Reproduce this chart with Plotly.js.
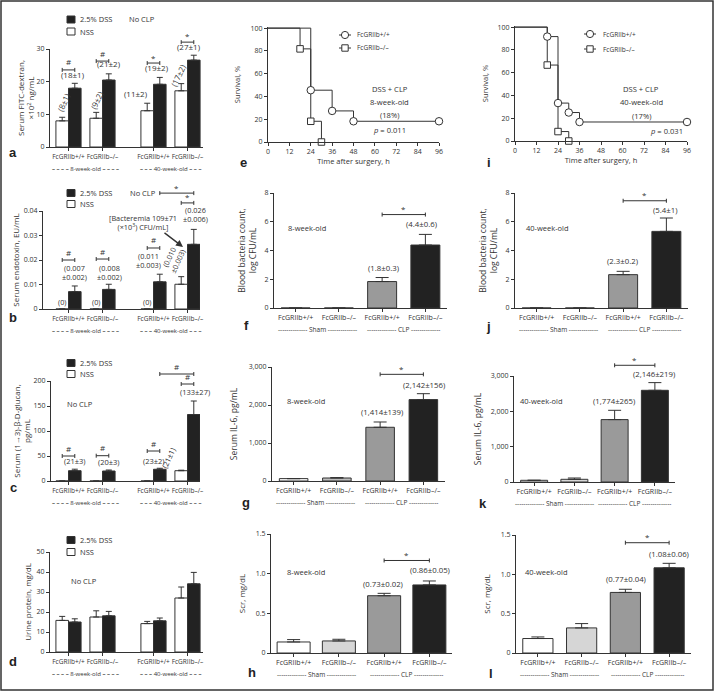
<!DOCTYPE html>
<html>
<head>
<meta charset="utf-8">
<script src="https://cdn.plot.ly/plotly-3.0.1.min.js"></script>
<style>html,body{margin:0;padding:0;background:#fff}#chart{width:716px;height:692px}</style>
</head>
<body>
<div id="chart"></div>
<script>
// ================= DATA =================
const groupLabels = ['FcGRIIb+/+', 'FcGRIIb–/–', 'FcGRIIb+/+', 'FcGRIIb–/–'];
const ageLabels = ['8-week-old', '40-week-old'];
const seriesNames = ['NSS', '2.5% DSS'];
const clpLabels = ['Sham', 'CLP'];

// a: serum FITC-dextran (x10^2 ng/mL)
const fitcNSS = [8.0, 8.8, 11.1, 17.2];
const fitcNSSErr = [1.1, 1.8, 2.3, 2.2];
const fitcDSS = [18.0, 20.5, 19.2, 26.6];
const fitcDSSErr = [1.5, 1.9, 2.1, 1.5];
const fitcNSSText = ['(8±1)', '(9±2)', '(11±2)', '(17±2)'];
const fitcDSSText = ['(18±1)', '(21±2)', '(19±2)', '(27±1)'];

// b: serum endotoxin (EU/mL)
const endoNSS = [0, 0, 0, 0.0101];
const endoNSSErr = [null, null, null, 0.0031];
const endoDSS = [0.0071, 0.0080, 0.0111, 0.0264];
const endoDSSErr = [0.0023, 0.0021, 0.0031, 0.0061];
const endoNSSText = ['(0)', '(0)', '(0)', '(0.010<br>±0.003)'];
const endoDSSText = ['(0.007<br>±0.002)', '(0.008<br>±0.002)', '(0.011<br>±0.003)', '(0.026<br>±0.006)'];
const bacteremiaText = '[Bacteremia 109±71<br>(×10<sup>3</sup>) CFU/mL]';

// c: serum (1->3)-beta-D-glucan (pg/mL)
const glucanNSS = [0, 0, 0, 20.6];
const glucanNSSErr = [null, null, null, 1.0];
const glucanDSS = [20.6, 20.0, 23.5, 133];
const glucanDSSErr = [3.0, 2.0, 2.0, 27];
const glucanNSSText = [null, null, null, '(21±1)'];
const glucanDSSText = ['(21±3)', '(20±3)', '(23±2)', '(133±27)'];

// d: urine protein (mg/dL)
const urineNSS = [15.8, 17.5, 14.2, 27.0];
const urineNSSErr = [2.0, 3.1, 1.1, 5.5];
const urineDSS = [15.0, 18.1, 15.6, 34.1];
const urineDSSErr = [1.6, 2.2, 1.4, 5.7];

// e / i: survival after DSS + CLP (%)
const surv8WTTime = [0, 24, 36, 48, 96];
const surv8WT = [100, 45.5, 27.3, 18.2, 18.2];
const surv8KOTime = [0, 18, 24, 30];
const surv8KO = [100, 81.8, 18.2, 0];
const surv40WTTime = [0, 18, 24, 30, 36, 96];
const surv40WT = [100, 91.7, 33.3, 25.0, 16.7, 16.7];
const surv40KOTime = [0, 18, 24, 30];
const surv40KO = [100, 66.7, 8.3, 0];
const survText8 = ['DSS + CLP', '8-week-old', '(18%)', '<i>p</i> = 0.011'];
const survText40 = ['DSS + CLP', '40-week-old', '(17%)', '<i>p</i> = 0.031'];

// f / j: blood bacteria count (log CFU/mL)
const bact8 = [0, 0, 1.84, 4.38];
const bact8Err = [null, null, 0.28, 0.74];
const bact40 = [0, 0, 2.32, 5.33];
const bact40Err = [null, null, 0.23, 0.93];
const bact8Text = [null, null, '(1.8±0.3)', '(4.4±0.6)'];
const bact40Text = [null, null, '(2.3±0.2)', '(5.4±1)'];

// g / k: serum IL-6 (pg/mL)
const il6_8 = [63, 79, 1414, 2142];
const il6_8Err = [null, 10, 139, 156];
const il6_40 = [48, 76, 1766, 2595];
const il6_40Err = [null, 37, 263, 218];
const il6_8Text = [null, null, '(1,414±139)', '(2,142±156)'];
const il6_40Text = [null, null, '(1,774±265)', '(2,146±219)'];

// h / l: serum creatinine (mg/dL)
const scr8 = [0.139, 0.152, 0.722, 0.858];
const scr8Err = [0.03, 0.021, 0.03, 0.05];
const scr40 = [0.184, 0.319, 0.770, 1.083];
const scr40Err = [0.02, 0.055, 0.04, 0.057];
const scr8Text = [null, null, '(0.73±0.02)', '(0.86±0.05)'];
const scr40Text = [null, null, '(0.77±0.04)', '(1.08±0.06)'];
const scrTickVals = [0, 0.5, 1, 1.5];
const scrTickText = ['0', '0.5', '1.0', '1.5'];

// ================= LAYOUT HELPERS =================
const W = 716, H = 692, INK = '#333333';
const FONT = "'Open Sans', 'Noto Sans', sans-serif";
const F = (size, color) => ({family:FONT, size:size, color:color || INK});
const box = {
  a:{L:50,R:203,T:49,B:147},  b:{L:43,R:200,T:211,B:309}, c:{L:51,R:200,T:381,B:481}, d:{L:50,R:203,T:552,B:652},
  e:{L:268,R:439,T:27,B:142}, f:{L:274,R:447,T:193,B:308}, g:{L:272,R:445,T:367,B:481}, h:{L:271,R:452,T:534,B:653},
  i:{L:515,R:687,T:26,B:141}, j:{L:515,R:688,T:193,B:308}, k:{L:514,R:675,T:376,B:482}, l:{L:516,R:691,T:535,B:653}
};
const keys = Object.keys(box);
const num = {}; keys.forEach((k, i) => num[k] = i + 1);
const sfx = k => num[k] === 1 ? '' : String(num[k]);
const XR = k => 'x' + sfx(k), YR = k => 'y' + sfx(k), YD = k => 'y' + sfx(k) + ' domain';
const fx = p => p / W, fy = p => 1 - p / H;

const pairPos = groupLabels.map((_, i) => i + (i >= 2 ? 0.5 : 0));
const catPos = groupLabels.map((_, i) => i);
const PAIR_PX = 34, PAIR0 = 68.5, BW = 0.37;
const xr = {}, yr = {a:[0,30], b:[0,0.04], c:[0,200], d:[0,50], e:[0,101], f:[0,8], g:[0,3000], h:[0,1.5], i:[0,101], j:[0,8], k:[0,3000], l:[0,1.5]};
['a','b','c','d'].forEach(k => xr[k] = [(box[k].L - PAIR0) / PAIR_PX, (box[k].R - PAIR0) / PAIR_PX]);
['e','i'].forEach(k => xr[k] = [0, 96]);
['f','g','h','j','k','l'].forEach(k => xr[k] = [-0.5, 3.5]);
const yd = (k, v) => (v - yr[k][0]) / (yr[k][1] - yr[k][0]);
const pxX = (k, p) => xr[k][0] + (p - box[k].L) / (box[k].R - box[k].L) * (xr[k][1] - xr[k][0]);
const pxYd = (k, p) => (box[k].B - p) / (box[k].B - box[k].T);

const traces = [], annotations = [], shapes = [];
const errUp = (arr, w) => ({type:'data', symmetric:false, array:arr, arrayminus:arr.map(v => v == null ? null : 0), color:INK, thickness:1, width:w, visible:true});

// ----- paired bars (a-d)
function pairBars(k, nss, nssErr, dss, dssErr) {
  traces.push({type:'bar', name:seriesNames[0], x:pairPos, y:nss, width:BW, offset:-BW, xaxis:XR(k), yaxis:YR(k),
    marker:{color:'#ffffff', line:{color:INK, width:1}}, error_y:errUp(nssErr, 3), hoverinfo:'skip', showlegend:false});
  traces.push({type:'bar', name:seriesNames[1], x:pairPos, y:dss, width:BW, offset:0, xaxis:XR(k), yaxis:YR(k),
    marker:{color:'#222222', line:{color:INK, width:1}}, error_y:errUp(dssErr, 3), hoverinfo:'skip', showlegend:false});
}
const CLP_COLORS = ['#ffffff', '#d6d6d6', '#9a9a9a', '#222222'];
function clpBars(k, vals, errs, width, colors) {
  traces.push({type:'bar', x:catPos, y:vals, width:width, xaxis:XR(k), yaxis:YR(k),
    marker:{color:colors || CLP_COLORS, line:{color:INK, width:1}}, error_y:errUp(errs, 6.5), hoverinfo:'skip', showlegend:false});
}
function txt(k, x, yData, text, o, size) {
  if (text == null) return;
  annotations.push(Object.assign({xref:XR(k), yref:YD(k), x:x, y:yd(k, yData), text:text, showarrow:false,
    font:F(size || 7.5), xanchor:'center', yanchor:'bottom'}, o || {}));
}
function bracket(k, x0, x1, yData, sym, symShift) {
  const yb = yd(k, yData), cap = 2 / (box[k].B - box[k].T);
  shapes.push({type:'line', xref:XR(k), yref:YD(k), x0:x0, x1:x1, y0:yb, y1:yb, line:{color:INK, width:1}});
  shapes.push({type:'line', xref:XR(k), yref:YD(k), x0:x0, x1:x0, y0:yb - cap, y1:yb + cap, line:{color:INK, width:1}});
  shapes.push({type:'line', xref:XR(k), yref:YD(k), x0:x1, x1:x1, y0:yb - cap, y1:yb + cap, line:{color:INK, width:1}});
  annotations.push({xref:XR(k), yref:YD(k), x:(x0 + x1) / 2, y:yb, yshift:symShift, text:sym, showarrow:false,
    font:F(8), xanchor:'center', yanchor:'middle'});
}
function paperText(xp, yp, text, size, o) {
  annotations.push(Object.assign({xref:'paper', yref:'paper', x:fx(xp), y:fy(yp), text:text, showarrow:false,
    font:F(size), xanchor:'center', yanchor:'middle'}, o || {}));
}
function swatchLegend(rows, xL, textX, size) { // rows: [[yCenter, fill, label]]
  rows.forEach(r => {
    shapes.push({type:'rect', xref:'paper', yref:'paper', x0:fx(xL), x1:fx(xL + 8), y0:fy(r[0] + 3.5), y1:fy(r[0] - 3.5),
      fillcolor:r[1], line:{color:INK, width:1}});
    paperText(textX, r[0], r[2], size, {xanchor:'left'});
  });
}
function lineLegend(rows, xc, textX, size) { // rows: [[yCenter, symbol, label]]
  rows.forEach(r => {
    shapes.push({type:'line', xref:'paper', yref:'paper', x0:fx(xc - 6), x1:fx(xc + 6), y0:fy(r[0]), y1:fy(r[0]), line:{color:INK, width:1}});
    const s = r[1] === 'circle' ? 3.6 : 3.2;
    shapes.push({type:r[1] === 'circle' ? 'circle' : 'rect', xref:'paper', yref:'paper', x0:fx(xc - s), x1:fx(xc + s), y0:fy(r[0] + s), y1:fy(r[0] - s),
      fillcolor:'#ffffff', line:{color:INK, width:1}});
    paperText(textX, r[0], r[2], size, {xanchor:'left'});
  });
}

// ================= PANELS a-d =================
pairBars('a', fitcNSS, fitcNSSErr, fitcDSS, fitcDSSErr);
pairBars('b', endoNSS, endoNSSErr, endoDSS, endoDSSErr);
pairBars('c', glucanNSS, glucanNSSErr, glucanDSS, glucanDSSErr);
pairBars('d', urineNSS, urineNSSErr, urineDSS, urineDSSErr);

const nssX = i => pairPos[i] - BW / 2, dssX = i => pairPos[i] + BW / 2;
const topOf = (v, e, i) => v[i] + (e[i] || 0);

// a labels
[[-2,1],[0,2.5],[-3,2],[-5,1.2]].forEach((s, i) => txt('a', dssX(i), topOf(fitcDSS, fitcDSSErr, i), fitcDSSText[i], {xshift:s[0], yshift:s[1]}, 8));
[[1,15,-65,'middle'],[0,12.3,-65,'middle'],[-11,2,0,'bottom'],[-3.5,8.6,-65,'middle']].forEach((s, i) =>
  txt('a', nssX(i), topOf(fitcNSS, fitcNSSErr, i), fitcNSSText[i], {xshift:s[0], yshift:s[1], textangle:s[2], yanchor:s[3]}, 8));
bracket('a', nssX(0), dssX(0), 23.6, '#', 8);
bracket('a', nssX(1), dssX(1), 26.3, '#', 8);
bracket('a', nssX(2), dssX(2), 25.7, '*', 6);
bracket('a', nssX(3), dssX(3), 32.1, '*', 7);

// b labels
const BS = 7.3;
[[0,2],[0.75,0],[-11,2],[1.5,3]].forEach((s, i) => txt('b', dssX(i), topOf(endoDSS, endoDSSErr, i), endoDSSText[i], {xshift:s[0], yshift:s[1]}, BS));
[0,1,2].forEach(i => txt('b', nssX(i), 0, endoNSSText[i], {yshift:7, yanchor:'middle'}, BS));
txt('b', nssX(3), topOf(endoNSS, endoNSSErr, 3), endoNSSText[3], {xshift:-7.5, yshift:17.7, textangle:-65, yanchor:'middle'}, BS);
bracket('b', nssX(0), dssX(0), 0.0200, '#', 8);
bracket('b', nssX(1), dssX(1), 0.0204, '#', 8);
bracket('b', nssX(2), dssX(2), 0.0249, '#', 8);
bracket('b', dssX(2), dssX(3), 0.0473, '*', 6);
bracket('b', nssX(3), dssX(3), 0.0433, '*', 6);
annotations.push({xref:XR('b'), yref:YD('b'), x:pxX('b', 143), y:pxYd('b', 223), text:bacteremiaText, showarrow:false,
  font:F(BS), xanchor:'center', yanchor:'middle'});
annotations.push({xref:XR('b'), yref:YD('b'), x:pxX('b', 183), y:pxYd('b', 247), ax:-21, ay:-16, text:' ', showarrow:true,
  arrowhead:2, arrowsize:1, arrowwidth:1.4, arrowcolor:INK, standoff:0, font:F(BS)});

// c labels
[[0,1],[0,1],[-6,0],[1.5,2]].forEach((s, i) => txt('c', dssX(i), topOf(glucanDSS, glucanDSSErr, i), glucanDSSText[i], {xshift:s[0], yshift:s[1]}, 7.5));
txt('c', nssX(3), topOf(glucanNSS, glucanNSSErr, 3), glucanNSSText[3], {xshift:-12.5, yshift:12, textangle:-65, yanchor:'middle'}, 7.5);
bracket('c', nssX(0), dssX(0), 50, '#', 8);
bracket('c', nssX(1), dssX(1), 50.6, '#', 8);
bracket('c', nssX(2), dssX(2), 60, '#', 8);
bracket('c', dssX(2), dssX(3), 214, '#', 8);
bracket('c', nssX(3), dssX(3), 194, '#', 8);

// legends a-d
swatchLegend([[19.5, '#222222', seriesNames[1]], [31.5, '#ffffff', seriesNames[0]]], 67, 78, 7.5);
swatchLegend([[193, '#222222', seriesNames[1]], [204, '#ffffff', seriesNames[0]]], 67, 78, 7.5);
swatchLegend([[363, '#222222', seriesNames[1]], [374, '#ffffff', seriesNames[0]]], 67, 78, 7.5);
swatchLegend([[540, '#222222', seriesNames[1]], [552, '#ffffff', seriesNames[0]]], 67, 78, 7.5);
paperText(127, 19.5, 'No CLP', 7.5, {xanchor:'left'});
paperText(128, 193, 'No CLP', 7.5, {xanchor:'left'});
paperText(65, 404, 'No CLP', 7.5, {xanchor:'left'});
paperText(69, 581, 'No CLP', 7.5, {xanchor:'left'});

// age group labels under a-d
['a','b','c','d'].forEach(k => {
  [[0.5, ageLabels[0], '– – – –'], [3.0, ageLabels[1], '– – –']].forEach(g => {
    annotations.push({xref:XR(k), yref:YD(k), x:g[0], y:0, yshift:-22, text:'<b>' + g[2] + '</b> ' + g[1] + ' <b>' + g[2] + '</b>',
      showarrow:false, font:F(6), xanchor:'center', yanchor:'middle'});
  });
});

// ================= SURVIVAL e, i =================
function survival(k, tWT, sWT, tKO, sKO) {
  [[tKO, sKO, 'square', 6.5, groupLabels[1]], [tWT, sWT, 'circle', 7.5, groupLabels[0]]].forEach(c => {
    traces.push({type:'scatter', mode:'lines', x:c[0], y:c[1], line:{shape:'hv', color:INK, width:1}, xaxis:XR(k), yaxis:YR(k), hoverinfo:'skip', showlegend:false, name:c[4]});
    traces.push({type:'scatter', mode:'markers', x:c[0].slice(1), y:c[1].slice(1), cliponaxis:false, xaxis:XR(k), yaxis:YR(k), hoverinfo:'skip', showlegend:false, name:c[4],
      marker:{symbol:c[2], size:c[3], color:'#ffffff', line:{color:INK, width:1}}});
  });
}
survival('e', surv8WTTime, surv8WT, surv8KOTime, surv8KO);
survival('i', surv40WTTime, surv40WT, surv40KOTime, surv40KO);
[89, 102, 115, 130].forEach((yp, i) => paperText(390, yp, survText8[i], 7.6));
[89.3, 102.3, 115.7].forEach((yp, i) => paperText(641, yp, survText40[i], 7.6));
paperText(666, 130.7, survText40[3], 7.6);
lineLegend([[35, 'circle', groupLabels[0]], [48, 'square', groupLabels[1]]], 345, 355, 6.5);
lineLegend([[34, 'circle', groupLabels[0]], [49, 'square', groupLabels[1]]], 590, 601, 6.5);

// ================= CLP PANELS f-l =================
clpBars('f', bact8, bact8Err, 0.67);
clpBars('g', il6_8, il6_8Err, 0.66, ['#ffffff', '#bdbdbd', '#9a9a9a', '#222222']);
clpBars('h', scr8, scr8Err, 0.73);
clpBars('j', bact40, bact40Err, 0.67);
clpBars('k', il6_40, il6_40Err, 0.67);
clpBars('l', scr40, scr40Err, 0.69);
const dashes = '--------------';
[
  ['f', bact8, bact8Err, bact8Text, 6.5, [[1,3],[-3.7,3]], '8-week-old', 306.7, 228.3],
  ['g', il6_8, il6_8Err, il6_8Text, 2807, [[1.6,3],[0.6,1.5]], '8-week-old', 306, 401],
  ['h', scr8, scr8Err, scr8Text, 1.166, [[-0.8,2],[0.6,4]], '8-week-old', 306, 571.7],
  ['j', bact40, bact40Err, bact40Text, 7.46, [[-0.4,3],[-1.4,1.5]], '40-week-old', 547.7, 227.7],
  ['k', il6_40, il6_40Err, il6_40Text, 3303, [[-0.9,2],[-1.2,1.5]], '40-week-old', 541.7, 401],
  ['l', scr40, scr40Err, scr40Text, 1.402, [[0.6,3],[-0.4,2]], '40-week-old', 546.7, 572.3]
].forEach(p => {
  const k = p[0];
  [2, 3].forEach((i, j) => txt(k, catPos[i], topOf(p[1], p[2], i), p[3][i], {xshift:p[5][j][0], yshift:p[5][j][1]}, 7.8));
  bracket(k, catPos[2], catPos[3], p[4], '*', 6);
  paperText(p[7], p[8], p[6], 7.5);
  [[0.5, clpLabels[0]], [2.5, clpLabels[1]]].forEach(g => {
    annotations.push({xref:XR(k), yref:YD(k), x:g[0], y:0, yshift:-21, text:dashes + ' ' + g[1] + ' ' + dashes,
      showarrow:false, font:F(6.5), xanchor:'center', yanchor:'middle'});
  });
});

// ================= PANEL LETTERS & FRAME =================
[['a',13,152],['b',13,317],['c',13,487],['d',13,661],['e',243,162],['f',246,325],['g',246,502],['h',252,672],['i',489,162],['j',489,326],['k',483,503],['l',491,673]]
  .forEach(l => paperText(l[1], l[2], '<b>' + l[0] + '</b>', 13, {font:{family:"'Liberation Sans', Arial, sans-serif", size:13, color:'#222222'}}));
shapes.push({type:'rect', xref:'paper', yref:'paper', x0:fx(1), x1:fx(713), y0:fy(690), y1:fy(1), line:{color:INK, width:1.5}, fillcolor:'rgba(0,0,0,0)'});

// ================= AXES =================
const layout = {width:W, height:H, margin:{l:0, r:0, t:0, b:0}, paper_bgcolor:'#ffffff', plot_bgcolor:'rgba(0,0,0,0)',
  showlegend:false, barmode:'overlay', font:{family:FONT, color:INK}, annotations:annotations, shapes:shapes};
const yTitles = {
  a:['Serum FITC-dextran,<br>×10<sup>2</sup> ng/mL', 8, 0], b:['Serum endotoxin, EU/mL', 8, 2], c:['Serum (1→3)-β-D-glucan,<br>pg/mL', 8, 1],
  d:['Urine protein, mg/dL', 8, 3], e:['Survival, %', 7.5, 8], f:['Blood bacteria count,<br>log CFU/mL', 8.5, 6], g:['Serum IL-6, pg/mL', 8.5, 9],
  h:['Scr, mg/dL', 8, 8], i:['Survival, %', 7.5, 7], j:['Blood bacteria count,<br>log CFU/mL', 8.5, 6], k:['Serum IL-6, pg/mL', 8.5, 7], l:['Scr, mg/dL', 8, 8]
};
const yDtick = {a:10, b:0.01, c:50, d:10, e:20, f:2, g:1000, h:0.5, i:20, j:2, k:1000, l:0.5};
keys.forEach(k => {
  const b = box[k], n = sfx(k);
  const base = () => ({showline:true, linecolor:INK, linewidth:1, ticks:'outside', ticklen:3, tickwidth:1, tickcolor:INK,
    showgrid:false, zeroline:false, fixedrange:true, tickfont:F(7)});
  const xa = Object.assign(base(), {domain:[fx(b.L), fx(b.R)], anchor:YR(k), range:xr[k], tickangle:0});
  const ya = Object.assign(base(), {domain:[fy(b.B), fy(b.T)], anchor:XR(k), range:yr[k], tick0:0, dtick:yDtick[k],
    title:{text:yTitles[k][0], font:F(yTitles[k][1]), standoff:yTitles[k][2]}});
  if (['a','b','c','d'].includes(k)) {
    Object.assign(xa, {tickmode:'array', tickvals:pairPos, ticktext:groupLabels, tickfont:F(6.5)});
  } else if (k === 'e' || k === 'i') {
    Object.assign(xa, {tick0:0, dtick:12, title:{text:'Time after surgery, h', font:F(7.5), standoff:3}});
  } else {
    Object.assign(xa, {tickmode:'array', tickvals:catPos, ticktext:groupLabels});
  }
  if (k === 'g' || k === 'k') ya.tickformat = ',d';
  if (k === 'h' || k === 'l') Object.assign(ya, {tickmode:'array', tickvals:scrTickVals, ticktext:scrTickText});
  layout['xaxis' + n] = xa;
  layout['yaxis' + n] = ya;
});

Plotly.newPlot('chart', traces, layout, {staticPlot:true, displayModeBar:false});
</script>
</body>
</html>
